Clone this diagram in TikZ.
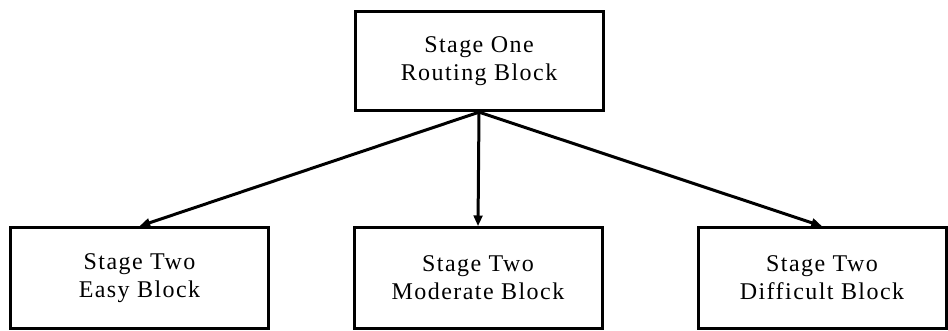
\documentclass[tikz,border=0pt]{standalone}
\usepackage{fontspec}
\setmainfont{Liberation Serif}[LetterSpace=6]
\usetikzlibrary{arrows.meta}
\begin{document}
\begin{tikzpicture}[x=0.75pt,y=-0.75pt,
  blockbox/.style={draw, line width=2.25pt, inner sep=0pt, align=center,
    font=\fontsize{18}{21}\selectfont},
  link/.style={line width=2.25pt, -{Triangle[length=8pt,width=6.5pt]}}]
\useasboundingbox (0,0) rectangle (948,331);
% top routing block
\node[blockbox, minimum width=186pt, minimum height=74.5pt] (top) at (479,61)
  {Stage One\\Routing Block};
% second-stage blocks
\node[blockbox, minimum width=193pt, minimum height=75.5pt] (easy) at (139.5,278)
  {Stage Two\\Easy Block};
\node[blockbox, minimum width=186pt, minimum height=75.5pt] (moderate) at (478,278)
  {Stage Two\\Moderate Block};
\node[blockbox, minimum width=186pt, minimum height=75.5pt] (difficult) at (822,278)
  {Stage Two\\Difficult Block};
% connectors
\draw[link] (top.south) -- (easy.north);
\draw[link] (top.south) -- (moderate.north);
\draw[link] (top.south) -- (difficult.north);
\end{tikzpicture}
\end{document}
